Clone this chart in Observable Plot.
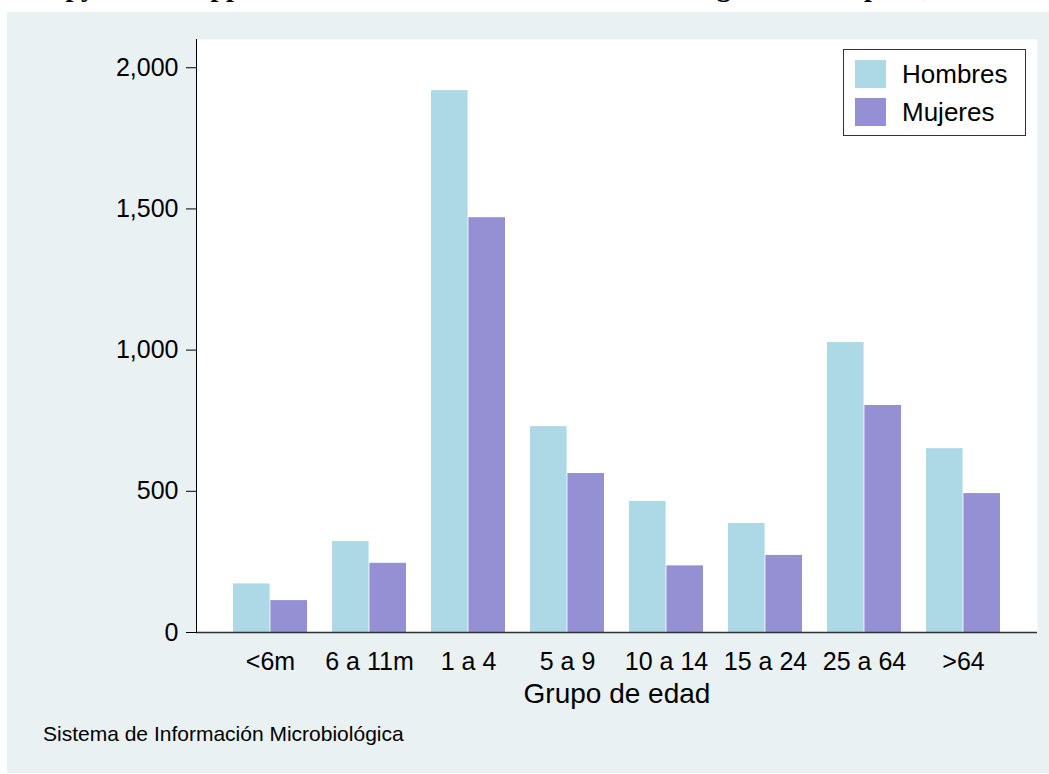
<!DOCTYPE html>
<html>
<head>
<meta charset="utf-8">
<script src="https://cdn.jsdelivr.net/npm/d3@7"></script>
<script src="https://cdn.jsdelivr.net/npm/@observablehq/plot@0.6"></script>
<style>
  html, body { margin: 0; padding: 0; background: #fff; }
  #wrap { position: relative; width: 1049px; height: 774px; overflow: hidden; background: #fff;
          font-family: "Liberation Sans", Arial, sans-serif; color: #000; }
  #panel { position: absolute; left: 7px; top: 12px; width: 1042px; height: 761px; background: #e9f1f3; }
  #title { position: absolute; left: 8px; top: -27px; white-space: nowrap;
           font: bold 28px "Liberation Serif", "Times New Roman", serif; line-height: 28px; }
  #chart { position: absolute; left: 0; top: 0; }
  #legend { position: absolute; left: 843px; top: 49px; width: 181px; height: 85px;
            background: #fff; border: 1.5px solid #333; }
  #legend .sw { position: absolute; left: 11px; width: 31px; height: 28px; }
  #legend .lb { position: absolute; left: 58px; font-size: 26px; line-height: 28px; }
  #caption { position: absolute; left: 43px; top: 723px; font-size: 21px; line-height: 21px; white-space: nowrap; }
</style>
</head>
<body>
<div id="wrap">
  <div id="panel"></div>
  <div id="title"></div>
  <div id="chart"></div>
  <div id="legend"></div>
  <div id="caption"></div>
</div>
<script>
const titleText = "Campylobacter spp. Distribución de los casos notificados según sexo. España, 2010";
const captionText = "Sistema de Información Microbiológica";
const groups = ["<6m", "6 a 11m", "1 a 4", "5 a 9", "10 a 14", "15 a 24", "25 a 64", ">64"];
const hombres = [172, 322, 1919, 729, 464, 386, 1027, 651];
const mujeres = [113, 245, 1469, 563, 236, 273, 804, 492];
const series = ["Hombres", "Mujeres"];
const colors = ["#add8e6", "#9590d3"];
const yTicks = [0, 500, 1000, 1500, 2000];
const xLabel = "Grupo de edad";

const data = groups.flatMap((g, i) => [
  {group: g, sexo: series[0], value: hombres[i]},
  {group: g, sexo: series[1], value: mujeres[i]}
]);

const W = 1049, H = 774, mL = 196, mR = 12, mT = 39, mB = 142;
const pIn = 0.25, pOut = 0.34;
const half = (W - mL - mR) / (groups.length - pIn + 2 * pOut) * (1 - pIn) / 2;

const chart = Plot.plot({
  width: W, height: H,
  marginLeft: mL, marginRight: mR, marginTop: mT, marginBottom: mB,
  style: {background: "transparent", fontFamily: "'Liberation Sans', Arial, sans-serif", color: "#000"},
  x: {type: "band", domain: groups, paddingInner: pIn, paddingOuter: pOut},
  y: {domain: [0, 2100]},
  color: {domain: series, range: colors},
  marks: [
    Plot.frame({fill: "white", stroke: "none"}),
    Plot.barY(data.filter(d => d.sexo === series[0]), {x: "group", y: "value", fill: "sexo", insetRight: half}),
    Plot.barY(data.filter(d => d.sexo === series[1]), {x: "group", y: "value", fill: "sexo", insetLeft: half}),
    Plot.ruleY([0], {stroke: "#333", strokeWidth: 1.5}),
    Plot.frame({anchor: "left", stroke: "#000", strokeWidth: 1}),
    Plot.axisY({ticks: yTicks, tickFormat: d3.format(",d"), tickSize: 10, tickPadding: 8, fontSize: 25, label: null, stroke: "#000"}),
    Plot.axisX({tickSize: 0, tickPadding: 20, fontSize: 25, label: null}),
    Plot.text([xLabel], {frameAnchor: "bottom", dy: 70, fontSize: 28, fill: "#000"})
  ]
});
document.getElementById("chart").appendChild(chart);

document.getElementById("title").textContent = titleText;
document.getElementById("caption").textContent = captionText;

const legend = document.getElementById("legend");
series.forEach((s, i) => {
  const sw = document.createElement("div");
  sw.className = "sw";
  sw.style.top = (10 + i * 38) + "px";
  sw.style.background = colors[i];
  const lb = document.createElement("div");
  lb.className = "lb";
  lb.style.top = (10 + i * 38) + "px";
  lb.textContent = s;
  legend.appendChild(sw);
  legend.appendChild(lb);
});
</script>
</body>
</html>
